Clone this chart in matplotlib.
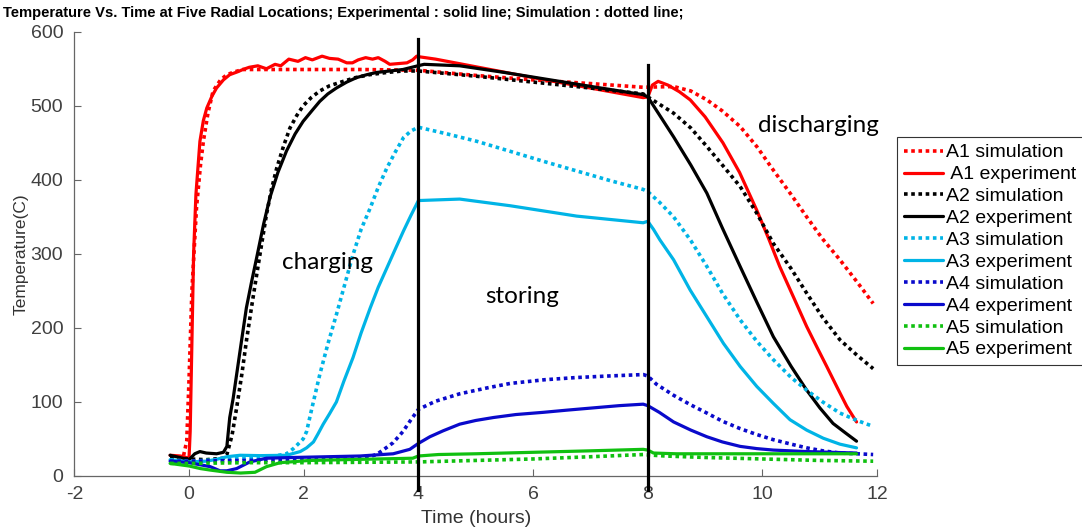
import matplotlib
matplotlib.use("Agg")
import matplotlib.pyplot as plt

# ---------------- data ----------------
t_a1_exp = [-0.33, -0.15, 0.0, 0.02, 0.05, 0.08, 0.12, 0.19, 0.25, 0.31, 0.4, 0.48, 0.6, 0.71, 0.85,
            0.94, 1.05, 1.2, 1.35, 1.5, 1.6, 1.74, 1.9, 2.03, 2.15, 2.32, 2.45, 2.6, 2.75, 2.85, 2.95,
            3.08, 3.2, 3.3, 3.42, 3.5, 3.65, 3.8, 3.9, 3.97, 4.03, 4.3, 6.0, 7.92, 8.0, 8.08, 8.18,
            8.35, 8.55, 8.74, 9.0, 9.31, 9.6, 9.9, 10.1, 10.3, 10.55, 10.77, 10.95, 11.12, 11.3, 11.47, 11.64]
T_a1_exp = [28, 27, 24, 60, 180, 300, 380, 452, 480, 497, 513, 524, 535, 542, 546,
            549, 552, 554, 550, 556, 554, 563, 560, 565, 562, 567, 564, 563, 558, 558, 562,
            565, 563, 565, 560, 556, 557, 558, 562, 567, 566, 563, 538, 511, 512, 528, 533,
            528, 519, 508, 485, 450, 410, 359, 322, 283, 240, 202, 174, 148, 120, 94, 73]

t_a1_sim = [-0.33, -0.1, -0.04, 0.0, 0.05, 0.13, 0.2, 0.25, 0.33, 0.42, 0.55, 0.66, 0.8, 0.94, 1.2,
            2.0, 3.0, 4.0, 5.0, 6.0, 7.0, 7.92, 8.45, 8.75, 9.03, 9.3, 9.61, 9.9, 10.19, 10.5,
            10.77, 11.05, 11.35, 11.65, 11.93]
T_a1_sim = [25, 26, 47, 130, 250, 362, 420, 452, 490, 520, 535, 542, 546, 549, 549,
            549, 549, 548, 541, 535, 530, 525, 526, 520, 508, 493, 472, 445, 413, 380,
            350, 320, 292, 262, 233]

t_a2_exp = [-0.33, 0.0, 0.1, 0.19, 0.3, 0.48, 0.6, 0.66, 0.71, 0.77, 0.83, 0.92, 1.0, 1.09, 1.18,
            1.3, 1.41, 1.55, 1.7, 1.85, 1.99, 2.15, 2.28, 2.42, 2.57, 2.75, 2.92, 3.1, 3.27, 3.5,
            3.73, 3.99, 4.1, 4.72, 5.5, 6.3, 7.1, 7.92, 8.0, 8.2, 8.45, 8.75, 9.03, 9.3, 9.61,
            9.9, 10.19, 10.5, 10.77, 11.0, 11.23, 11.45, 11.64]
T_a2_exp = [28, 22, 30, 33, 31, 30, 32, 40, 79, 105, 137, 185, 227, 262, 295,
            340, 376, 410, 439, 462, 479, 494, 506, 516, 524, 532, 538, 542, 545, 547,
            549, 554, 556, 554, 545, 535, 525, 515, 512, 488, 458, 420, 382, 335, 283,
            235, 188, 148, 116, 92, 71, 58, 47]

t_a2_sim = [-0.33, 0.0, 0.3, 0.6, 0.66, 0.75, 0.83, 0.92, 1.0, 1.09, 1.18, 1.27, 1.35, 1.44, 1.53,
            1.65, 1.76, 1.88, 1.99, 2.13, 2.28, 2.45, 2.69, 2.9, 3.15, 3.45, 3.73, 4.0, 5.0, 6.0,
            7.0, 7.92, 8.0, 8.45, 8.75, 9.03, 9.3, 9.61, 9.9, 10.19, 10.5, 10.77, 11.05, 11.35,
            11.65, 11.93]
T_a2_sim = [25, 23, 22, 24, 29, 55, 92, 137, 182, 228, 272, 315, 353, 388, 416,
            446, 470, 487, 500, 511, 520, 527, 533, 538, 542, 545, 547, 547, 540, 532,
            524, 516, 512, 490, 470, 445, 420, 391, 355, 314, 280, 247, 214, 184,
            163, 145]

t_a3_exp = [-0.33, 0.0, 0.3, 0.48, 0.66, 0.89, 1.24, 1.7, 1.94, 2.05, 2.17, 2.25, 2.34, 2.45, 2.57,
            2.7, 2.86, 3.0, 3.16, 3.3, 3.45, 3.6, 3.74, 3.87, 4.0, 4.72, 5.6, 6.76, 7.92, 8.0,
            8.1, 8.21, 8.45, 8.74, 9.03, 9.32, 9.61, 9.9, 10.19, 10.48, 10.77, 11.06, 11.35, 11.64]
T_a3_exp = [22, 19, 20, 22.5, 26, 28, 27.5, 28, 33, 38, 46, 57, 70, 84, 100,
            128, 160, 193, 227, 255, 281, 307, 331, 352, 372, 374, 365, 351, 342, 344,
            333, 319, 292, 251, 215, 179, 148, 121, 98, 76, 62, 51, 43, 38]

t_a3_sim = [-0.33, 0.0, 0.5, 1.0, 1.5, 1.7, 1.82, 1.9, 1.99, 2.05, 2.15, 2.28, 2.42, 2.57, 2.72,
            2.86, 3.0, 3.16, 3.3, 3.45, 3.6, 3.74, 3.87, 4.0, 4.5, 5.02, 6.18, 7.34, 7.92, 8.0,
            8.2, 8.45, 8.75, 9.03, 9.3, 9.61, 9.9, 10.19, 10.5, 10.77, 11.05, 11.35, 11.65, 11.93]
T_a3_sim = [22, 20, 22, 24, 27, 30, 37, 43, 50, 60, 94, 137, 178, 218, 260,
            299, 333, 362, 390, 416, 438, 457, 466, 471, 462, 452, 425, 399, 387, 384,
            370, 350, 318, 283, 247, 211, 182, 157, 133, 116, 100, 85, 75, 67]

t_a4_exp = [-0.33, 0.0, 0.37, 0.54, 0.66, 0.83, 1.06, 1.35, 1.81, 2.4, 2.98, 3.56, 3.85, 4.0, 4.2,
            4.43, 4.72, 5.0, 5.31, 5.7, 6.18, 6.6, 7.05, 7.5, 7.92, 8.0, 8.2, 8.45, 8.75, 9.03,
            9.3, 9.61, 9.9, 10.19, 10.77, 11.2, 11.64]
T_a4_exp = [20, 18, 12.6, 7, 7, 10, 19, 24, 25, 26, 27, 30, 36, 44, 53,
            61, 70, 75, 79, 83, 86, 89, 92, 95, 97, 95, 86, 73, 62, 53,
            46, 40, 37, 35, 33, 32, 31]

t_a4_sim = [-0.33, 0.0, 1.0, 2.0, 2.8, 3.1, 3.27, 3.4, 3.56, 3.73, 3.87, 4.0, 4.3, 4.72, 5.2,
            5.6, 6.2, 6.76, 7.3, 7.92, 8.0, 8.15, 8.45, 8.75, 9.03, 9.3, 9.61, 9.9, 10.19, 10.5,
            10.77, 11.05, 11.35, 11.65, 11.93]
T_a4_sim = [20, 20, 21, 22, 23, 25, 29, 36, 45, 60, 76, 90, 101, 111, 119,
            125, 130, 133, 135, 137, 135, 124, 109, 96, 85, 74, 64, 56, 49, 43,
            38, 34, 31, 30, 29]

t_a5_exp = [-0.33, 0.0, 0.2, 0.37, 0.66, 0.9, 1.15, 1.35, 1.59, 2.1, 2.98, 3.9, 4.0, 4.35, 5.0,
            6.0, 7.0, 7.92, 8.0, 8.1, 8.5, 9.5, 10.5, 11.64]
T_a5_exp = [17, 13.5, 10, 8, 5, 4, 5, 12.6, 18, 21, 22.5, 24, 27, 29, 30,
            32, 34, 36, 35, 31, 30, 30, 30, 30]

t_a5_sim = [-0.33, 0.0, 1.0, 2.0, 3.0, 4.0, 5.0, 6.0, 7.0, 7.92, 8.0, 8.3, 9.0, 10.0, 11.0, 11.93]
T_a5_sim = [17, 17, 18, 18, 18.5, 19, 21, 23, 26, 29, 28.5, 27, 25, 23, 21, 20]

phase_lines_t = [4, 8]
phase_lines_top = [590, 555]
phase_lines_bottom = -19

phase_labels = ["charging", "storing", "discharging"]
phase_label_t = [2.42, 5.81, 10.97]
phase_label_T = [288, 242, 474]

x_ticks = [-2, 0, 2, 4, 6, 8, 10, 12]
y_ticks = [0, 100, 200, 300, 400, 500, 600]

title = "Temperature Vs. Time at Five Radial Locations; Experimental : solid line; Simulation : dotted line;"

# ---------------- drawing ----------------
RED, BLACK, CYAN, BLUE, GREEN = "#FF0000", "#000000", "#00B4E6", "#0A0ACB", "#10C010"
DOT = (0, (1, 1))
LW_S, LW_D = 2.3, 2.6

fig = plt.figure(figsize=(10.82, 5.29), dpi=100)
ax = fig.add_axes([0.0687, 0.1002, 0.742, 0.8398])

series = [
    (t_a1_sim, T_a1_sim, RED, DOT, LW_D, "A1 simulation"),
    (t_a1_exp, T_a1_exp, RED, "-", LW_S, " A1 experiment"),
    (t_a2_sim, T_a2_sim, BLACK, DOT, LW_D, "A2 simulation"),
    (t_a2_exp, T_a2_exp, BLACK, "-", LW_S, "A2 experiment"),
    (t_a3_sim, T_a3_sim, CYAN, DOT, LW_D, "A3 simulation"),
    (t_a3_exp, T_a3_exp, CYAN, "-", LW_S, "A3 experiment"),
    (t_a4_sim, T_a4_sim, BLUE, DOT, LW_D, "A4 simulation"),
    (t_a4_exp, T_a4_exp, BLUE, "-", LW_S, "A4 experiment"),
    (t_a5_sim, T_a5_sim, GREEN, DOT, LW_D, "A5 simulation"),
    (t_a5_exp, T_a5_exp, GREEN, "-", LW_S, "A5 experiment"),
]
for tt, TT, c, ls, lw, lab in series:
    ax.plot(tt, TT, color=c, linestyle=ls, linewidth=lw, label=lab,
            dash_capstyle="butt", solid_capstyle="round", solid_joinstyle="round")

for xv, top in zip(phase_lines_t, phase_lines_top):
    ax.plot([xv, xv], [phase_lines_bottom, top], color="black", linewidth=2.3,
            clip_on=False, zorder=5)

for s, xt, yt in zip(phase_labels, phase_label_t, phase_label_T):
    ax.text(xt, yt, s, ha="center", va="center", fontsize=17.5, family="Lato", color="black")

ax.set_xlim(-2, 12)
ax.set_ylim(0, 600)
ax.set_xticks(x_ticks)
ax.set_yticks(y_ticks)
ax.set_xticklabels([str(v) for v in x_ticks])
ax.set_yticklabels([str(v) for v in y_ticks])

for sp in ["top", "right"]:
    ax.spines[sp].set_visible(False)
for sp in ["left", "bottom"]:
    ax.spines[sp].set_color("#666666")
    ax.spines[sp].set_linewidth(0.9)
ax.tick_params(direction="in", length=5, width=0.8, color="#666666",
               labelsize=14, labelcolor="#404040")
ax.tick_params(axis="y", pad=8)
ax.tick_params(axis="x", pad=7)
for lab in ax.get_xticklabels() + ax.get_yticklabels():
    lab.set_family("Liberation Sans")

ax.set_xlabel("Time (hours)", fontsize=14, color="#333333", family="Liberation Sans", labelpad=5)
ax.set_ylabel("Temperature(C)", fontsize=12.5, color="#333333", family="Liberation Sans", labelpad=1)

fig.text(0.003, 0.975, title, fontsize=10.6, fontweight="bold", family="Liberation Sans",
         ha="left", va="center", color="black")

leg = ax.legend(loc="upper left", bbox_to_anchor=(897 / 1082, 1 - 137 / 529),
                bbox_transform=fig.transFigure, frameon=True, fancybox=False,
                edgecolor="#333333", framealpha=1, handlelength=2.0, handletextpad=0.15,
                labelspacing=0.22, borderpad=0.35, borderaxespad=0,
                prop={"family": "Liberation Sans", "size": 14})
leg.get_frame().set_linewidth(0.8)

fig.savefig("out.png", dpi=100)
